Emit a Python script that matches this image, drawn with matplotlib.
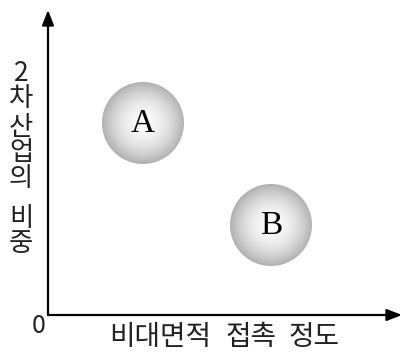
import numpy as np
import matplotlib.pyplot as plt
from matplotlib.patches import Circle

plt.rcParams['font.family'] = ['Noto Sans CJK KR', 'DejaVu Sans']

# 원 위치 (축 단위 = 픽셀)
labels = ["A", "B"]
cx = [95, 223]
cy = [192, 90]
radius = [41, 41]

y_words = ["2차", "산업의", "비중"]
y_pos = [229, 162, 84]
x_words = ["비대면적", "접촉", "정도"]
x_pos = [112, 203, 266]

W, H = 405, 354
fig = plt.figure(figsize=(W / 100, H / 100), dpi=100)
ax = fig.add_axes([48 / W, 39 / H, 354 / W, 305 / H])
ax.set_xlim(0, 354)
ax.set_ylim(0, 305)
ax.axis('off')

# 축 화살표
arr = dict(arrowstyle='-|>,head_length=0.9,head_width=0.35', color='black', lw=1.6,
           shrinkA=0, shrinkB=0)
ax.annotate('', xy=(0, 305), xytext=(0, 0), arrowprops=arr, annotation_clip=False)
ax.annotate('', xy=(354, 0), xytext=(0, 0), arrowprops=arr, annotation_clip=False)

# 그라데이션 원
g = np.linspace(-1, 1, 200)
gx, gy = np.meshgrid(g, g)
rr = np.sqrt(gx ** 2 + gy ** 2)
shade = 0.98 - 0.29 * rr ** 2
for lab, x, y, r in zip(labels, cx, cy, radius):
    im = ax.imshow(shade, cmap='gray', vmin=0, vmax=1, extent=(x - r, x + r, y - r, y + r),
                   interpolation='bilinear', zorder=2)
    c = Circle((x, y), r, transform=ax.transData, facecolor='none', edgecolor='none')
    ax.add_patch(c)
    im.set_clip_path(c)
    ax.text(x, y - 1, lab, ha='center', va='center', fontsize=24,
            family='Liberation Serif', zorder=3)
ax.set_xlim(0, 354)
ax.set_ylim(0, 305)

ax.text(-9, -11, "0", ha='center', va='center', fontsize=18, color='#222222')

# 세로 축 이름: 글자를 한 줄에 하나씩
for w, y in zip(y_words, y_pos):
    ax.text(-27, y, "\n".join(w), ha='center', va='center', fontsize=19,
            linespacing=0.95, color='#222222')

for w, x in zip(x_words, x_pos):
    ax.text(x, -22, w, ha='center', va='center', fontsize=20, color='#222222')

fig.savefig('out.png', dpi=100)
